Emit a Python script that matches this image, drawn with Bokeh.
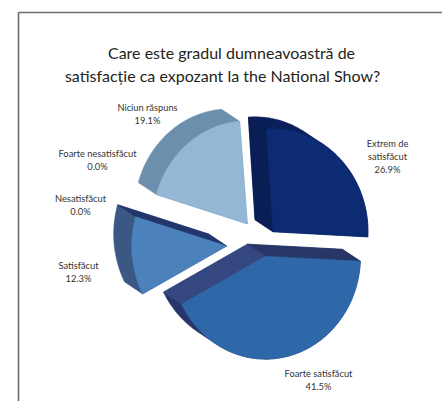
import numpy as np
from bokeh.plotting import figure
from bokeh.models import Range1d, ColumnDataSource
from bokeh.embed import file_html
from bokeh.resources import INLINE
from bokeh.core.properties import value

# ---------------- data ----------------
title_lines = ["Care este gradul dumneavoastră de",
               "satisfacție ca expozant la the National Show?"]
categories = ["Extrem de satisfăcut", "Foarte satisfăcut", "Satisfăcut",
              "Nesatisfăcut", "Foarte nesatisfăcut", "Niciun răspuns"]
percent = [26.9, 41.5, 12.3, 0.0, 0.0, 19.1]
label_lines = [["Extrem de", "satisfăcut"], ["Foarte satisfăcut"], ["Satisfăcut"],
               ["Nesatisfăcut"], ["Foarte nesatisfăcut"], ["Niciun răspuns"]]

# ---------------- style / layout ----------------
front_col = ["#0c2b72", "#2f68a8", "#4c82bb", "#4c82bb", "#4c82bb", "#94b7d6"]
arc_col   = ["#0a1f5a", "#27356a", "#3b5784", "#3b5784", "#3b5784", "#6c8fae"]
e1_col    = ["#0a1e56", "#283567", "#22356c", "#22356c", "#22356c", "#6c8fae"]  # ccw-most edge
e2_col    = ["#0a1e56", "#35477f", "#22356c", "#22356c", "#22356c", "#6c8fae"]  # cw-most edge
explode   = [15, 14, 36, 30, 30, 24]
label_pos = [(387, 143), (318, 373), (78, 265), (80, 198), (97, 153), (147, 107)]
draw_order = [5, 4, 3, 2, 0, 1]

CX, CY = 262.0, 242.0
RX, RY = 95.0, 103.0
DX, DY = -18.0, -12.0
START = 94.0

W, H = 442, 401
p = figure(width=W, height=H, x_range=Range1d(0, W), y_range=Range1d(H, 0),
           output_backend="svg", toolbar_location=None, min_border=0)
p.axis.visible = False
p.grid.visible = False
p.outline_line_color = None
p.background_fill_color = "white"


def convex_hull(points):
    pts = sorted(set((round(x, 3), round(y, 3)) for x, y in points))
    if len(pts) <= 2:
        return pts

    def cross(o, a, b):
        return (a[0] - o[0]) * (b[1] - o[1]) - (a[1] - o[1]) * (b[0] - o[0])
    lower, upper = [], []
    for q in pts:
        while len(lower) >= 2 and cross(lower[-2], lower[-1], q) <= 0:
            lower.pop()
        lower.append(q)
    for q in reversed(pts):
        while len(upper) >= 2 and cross(upper[-2], upper[-1], q) <= 0:
            upper.pop()
        upper.append(q)
    return lower[:-1] + upper[:-1]


# angles for each slice
angles = []
cur = START
for v in percent:
    a1 = cur
    a2 = cur - v * 3.6
    angles.append((a1, a2))
    cur = a2

depth_math = np.array([DX, -DY])


def visible(normal_deg):
    n = np.array([np.cos(np.radians(normal_deg)), np.sin(np.radians(normal_deg))])
    return float(n @ depth_math) > 0


xs, ys, cols = [], [], []
for i in draw_order:
    v = percent[i]
    if v <= 0:
        continue
    a1, a2 = angles[i]
    b = np.radians((a1 + a2) / 2)
    vx = CX + explode[i] * np.cos(b)
    vy = CY - explode[i] * np.sin(b)
    th = np.radians(np.linspace(a1, a2, 90))
    ax = vx + RX * np.cos(th)
    ay = vy - RY * np.sin(th)
    fx = np.concatenate([[vx], ax])
    fy = np.concatenate([[vy], ay])
    # silhouette (front + back)
    hpts = convex_hull(list(zip(fx, fy)) + list(zip(fx + DX, fy + DY)))
    xs.append([q[0] for q in hpts]); ys.append([q[1] for q in hpts]); cols.append(arc_col[i])
    # radial edge faces
    for nrm, col, (px, py) in [(a1 + 90, e1_col[i], (ax[0], ay[0])),
                               (a2 - 90, e2_col[i], (ax[-1], ay[-1]))]:
        if visible(nrm):
            xs.append([vx, px, px + DX, vx + DX]); ys.append([vy, py, py + DY, vy + DY]); cols.append(col)
    # front face
    xs.append(list(fx)); ys.append(list(fy)); cols.append(front_col[i])

src = ColumnDataSource(dict(xs=xs, ys=ys, c=cols))
p.patches("xs", "ys", source=src, fill_color="c", line_color="c", line_width=0.5)

# frame
p.segment(x0=[18, 18], y0=[12, 12], x1=[18, 442], y1=[401, 12], line_color="#6b6b6b", line_width=1.6)

# title
p.text(x=[231, 222], y=[52, 75], text=title_lines, text_font=value("Lato"),
       text_font_size="16px", text_color="#231f20", text_align="center", text_baseline="middle")

# labels
lx, ly, lt = [], [], []
for i in range(len(categories)):
    x0, y0 = label_pos[i]
    lines = label_lines[i] + [f"{percent[i]:.1f}%"]
    for k, t in enumerate(lines):
        lx.append(x0); ly.append(y0 + 13 * k); lt.append(t)
p.text(x=lx, y=ly, text=lt, text_font=value("Lato"), text_font_size="9.3px",
       text_color="#333333", text_align="center", text_baseline="middle")

open("out.html", "w").write(file_html(p, INLINE))
